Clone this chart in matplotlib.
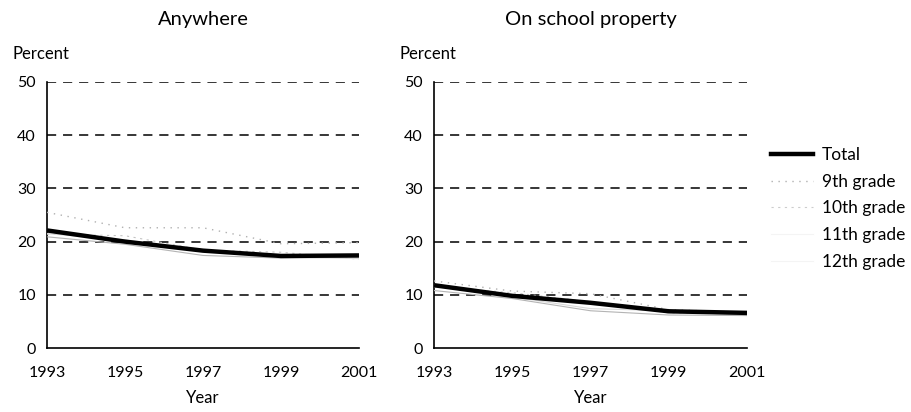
import matplotlib
matplotlib.use("Agg")
import matplotlib.pyplot as plt
from matplotlib.lines import Line2D

plt.rcParams['font.family'] = ['Lato', 'DejaVu Sans']

years = [1993, 1995, 1997, 1999, 2001]
xticks = [1993, 1995, 1997, 1999, 2001]
yticks = [0, 10, 20, 30, 40, 50]
panels = ["Anywhere", "On school property"]
series_names = ["Total", "9th grade", "10th grade", "11th grade", "12th grade"]

anywhere_total = [22.1, 20.0, 18.3, 17.3, 17.4]
anywhere_9th = [25.5, 22.6, 22.6, 19.6, 19.8]
anywhere_10th = [21.4, 21.1, 18.4, 18.0, 16.7]
anywhere_11th = [21.5, 20.3, 18.2, 17.1, 16.8]
anywhere_12th = [20.9, 19.5, 17.4, 16.9, 17.1]

school_total = [11.8, 9.8, 8.5, 6.9, 6.6]
school_9th = [12.6, 10.7, 10.2, 7.2, 6.7]
school_10th = [11.5, 10.4, 8.7, 6.6, 6.7]
school_11th = [11.9, 9.6, 7.4, 7.0, 6.1]
school_12th = [10.8, 9.3, 7.0, 6.2, 6.1]

data = {
    "Anywhere": [anywhere_total, anywhere_9th, anywhere_10th, anywhere_11th, anywhere_12th],
    "On school property": [school_total, school_9th, school_10th, school_11th, school_12th],
}

styles = [
    dict(color='black', lw=3.2, ls='-', zorder=5),
    dict(color='#b0b0b0', lw=1.0, ls=(0, (1, 4)), zorder=3),
    dict(color='#c4c4c4', lw=0.8, ls=(0, (2, 4)), zorder=3),
    dict(color='#d8d8d8', lw=0.8, ls='-', zorder=3),
    dict(color='#b4b4b4', lw=0.8, ls='-', zorder=3),
]
legend_colors = ['black', '#b0b0b0', '#cccccc', '#f4f4f4', '#f4f4f4']

fig = plt.figure(figsize=(9.12, 4.12), dpi=100)
positions = [[47/912, 1-348/412, 312/912, 266/412],
             [434/912, 1-348/412, 313/912, 266/412]]

fs = 11.5
for name, pos in zip(panels, positions):
    ax = fig.add_axes(pos)
    for vals, st in zip(data[name], styles):
        ax.plot(years, vals, solid_capstyle='butt', **st)
    for yv in yticks[1:]:
        ax.axhline(yv, color='black', lw=1.1, ls=(0, (6, 4.5)), zorder=1)
    ax.set_xlim(1993, 2001)
    ax.set_ylim(0, 50)
    ax.set_xticks(xticks)
    ax.set_yticks(yticks)
    ax.tick_params(length=0, labelsize=fs, pad=8)
    ax.tick_params(axis='x', pad=13)
    for s in ['top', 'right']:
        ax.spines[s].set_visible(False)
    for s in ['left', 'bottom']:
        ax.spines[s].set_linewidth(1.2)
    ax.set_title(name, fontsize=14.5, pad=41)
    ax.text(-0.11, 1.105, "Percent", transform=ax.transAxes, fontsize=fs + 0.5,
            ha='left', va='center')
    ax.set_xlabel("Year", fontsize=fs + 0.5, labelpad=7)

handles = []
for st, c in zip(styles, legend_colors):
    kw = {k: v for k, v in st.items() if k not in ('zorder', 'color')}
    handles.append(Line2D([0], [0], color=c, **kw))
fig.legend(handles, series_names, loc='upper left', bbox_to_anchor=(764/912, 1-140/412),
           frameon=False, fontsize=12.5, handlelength=2.4, labelspacing=0.62,
           handletextpad=0.55, borderaxespad=0)

fig.savefig("out.png", dpi=100)
